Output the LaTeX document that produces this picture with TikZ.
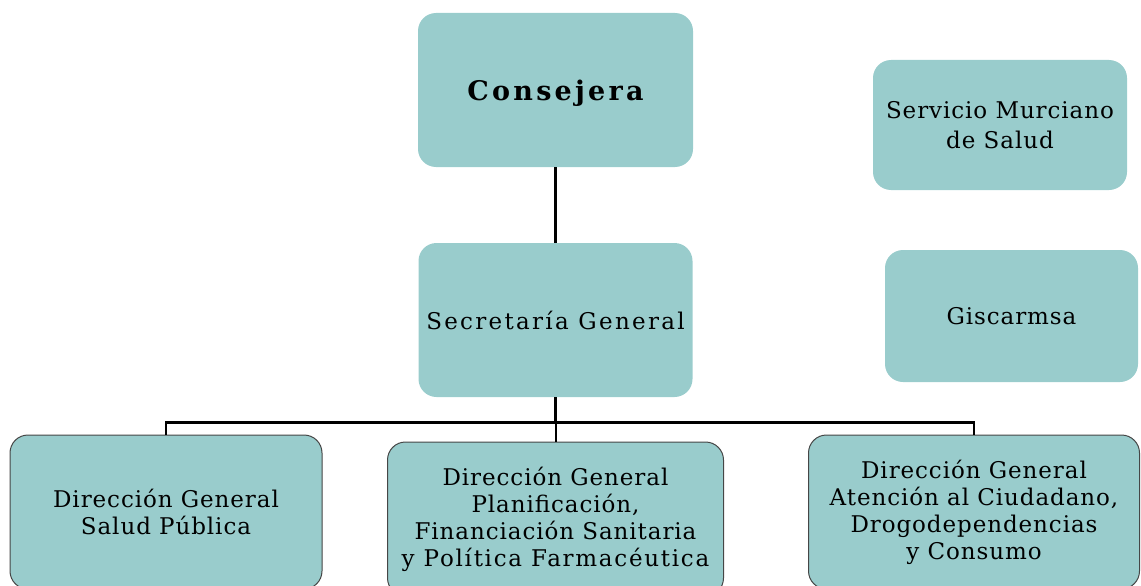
\documentclass[tikz,border=0pt]{standalone}
\usepackage{fontspec}
\setmainfont{DejaVu Serif}[LetterSpace=4]
\newfontfamily\titlefont{DejaVu Serif}[LetterSpace=12]
\newfontfamily\widefont{DejaVu Serif}[LetterSpace=10]
\newfontfamily\looserfont{DejaVu Serif}[LetterSpace=7.5]
\definecolor{boxfill}{RGB}{153,204,204}
\definecolor{boxline}{RGB}{70,70,70}
\begin{document}
\begin{tikzpicture}[x=1pt,y=-1pt,
  unit/.style={fill=boxfill, rounded corners=18pt, inner sep=0pt, align=center,
    font=\fontsize{23}{27}\selectfont},
  lowunit/.style={unit, draw=boxline, line width=1pt},
  link/.style={line width=2.6pt, black}]
\clip (0,0) rectangle (1141,586);

% top of the hierarchy
\node[unit, minimum width=275pt, minimum height=154pt, text depth=0pt,
      font=\fontsize{27}{30}\selectfont\titlefont\bfseries]
  (cons) at (555.5,90) {Consejera};
\node[unit, minimum width=274pt, minimum height=154pt,
      font=\fontsize{23}{27}\selectfont\widefont] (sec) at (555.5,320)
  {Secretaría General};

% attached bodies
\node[unit, minimum width=254pt, minimum height=130pt,
      font=\fontsize{23}{30}\selectfont] (smr) at (1000,125)
  {Servicio Murciano\\de Salud};
\node[unit, minimum width=253pt, minimum height=132pt] (gis) at (1011.5,316)
  {Giscarmsa};

% directorates
\node[lowunit, minimum width=312pt, minimum height=154pt] (dgsp) at (166,512)
  {Dirección General\\Salud Pública};
\node[lowunit, minimum width=336pt, minimum height=154pt] (dgp) at (555.5,519)
  {Dirección General\\Planificación,\\Financiación Sanitaria\\{\looserfont y Política Farmacéutica}};
\node[lowunit, minimum width=331pt, minimum height=154pt] (dga) at (974,512)
  {Dirección General\\Atención al Ciudadano,\\Drogodependencias\\y Consumo};

% connectors
\path (sec.south) ++(0,25) coordinate (j);
\draw[link, line width=3.2pt] (cons.south) -- (sec.north);
\draw[link, line width=3.4pt] (sec.south) -- (j);
\draw[link] (dgsp.north) |- (j) -| (dga.north);
\draw[link, line width=2pt] (j) -- (dgp.north);
\end{tikzpicture}
\end{document}
